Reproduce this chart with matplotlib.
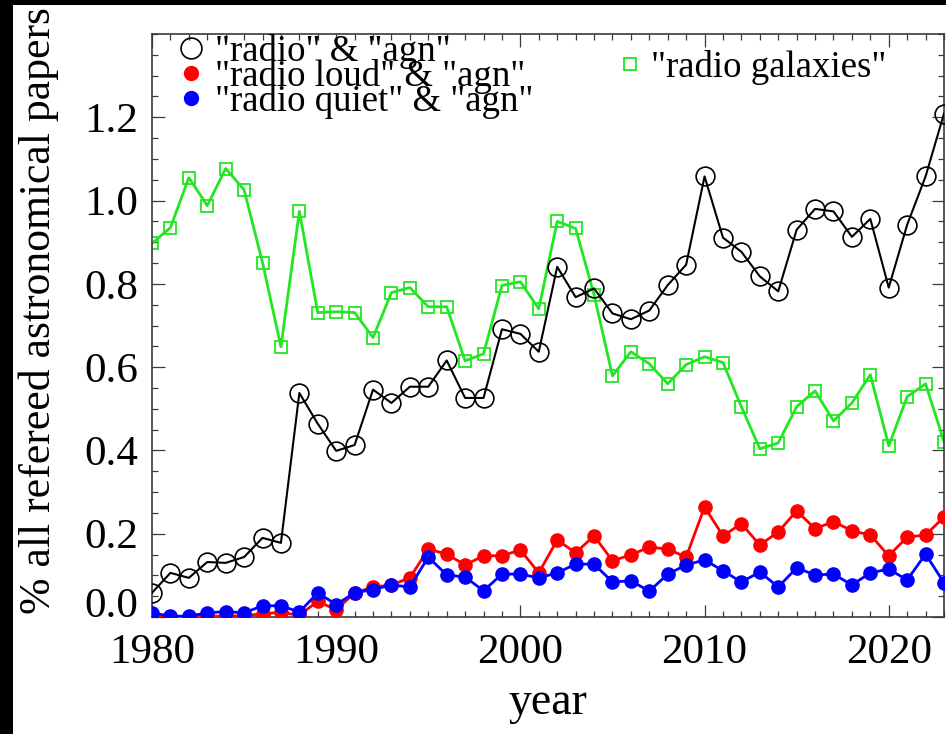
import matplotlib
matplotlib.use("Agg")
import matplotlib.pyplot as plt
from matplotlib.lines import Line2D
from matplotlib.patches import Rectangle
from matplotlib.ticker import MultipleLocator

# -----------------------------
# Data: fraction of refereed papers per year
# -----------------------------
years = list(range(1980, 2024))

radio_agn = [0.058, 0.106, 0.094, 0.132, 0.130, 0.144, 0.190, 0.178, 0.538, 0.464,
             0.399, 0.413, 0.546, 0.514, 0.553, 0.553, 0.616, 0.526, 0.526, 0.691,
             0.680, 0.637, 0.841, 0.768, 0.789, 0.729, 0.715, 0.736, 0.797, 0.846,
             1.058, 0.911, 0.877, 0.818, 0.782, 0.930, 0.980, 0.974, 0.913, 0.956,
             0.791, 0.942, 1.058, 1.209]

radio_loud = [0.000, 0.000, 0.000, 0.002, 0.002, 0.003, 0.008, 0.011, 0.004, 0.038,
              0.017, 0.058, 0.072, 0.077, 0.094, 0.163, 0.151, 0.125, 0.147, 0.147,
              0.161, 0.106, 0.185, 0.154, 0.195, 0.135, 0.149, 0.168, 0.163, 0.144,
              0.264, 0.195, 0.224, 0.173, 0.204, 0.255, 0.212, 0.229, 0.207, 0.197,
              0.147, 0.192, 0.197, 0.240]

radio_quiet = [0.010, 0.002, 0.002, 0.010, 0.013, 0.010, 0.027, 0.027, 0.012, 0.058,
               0.030, 0.058, 0.066, 0.077, 0.072, 0.144, 0.101, 0.096, 0.063, 0.103,
               0.103, 0.094, 0.106, 0.127, 0.127, 0.084, 0.087, 0.062, 0.103, 0.125,
               0.137, 0.111, 0.084, 0.108, 0.072, 0.118, 0.101, 0.103, 0.077, 0.106,
               0.115, 0.089, 0.151, 0.082]

radio_galaxies = [0.897, 0.935, 1.055, 0.988, 1.077, 1.026, 0.851, 0.649, 0.974, 0.731,
                  0.733, 0.731, 0.671, 0.779, 0.791, 0.745, 0.745, 0.615, 0.632, 0.796,
                  0.805, 0.740, 0.950, 0.933, 0.774, 0.579, 0.637, 0.608, 0.560, 0.606,
                  0.625, 0.611, 0.505, 0.404, 0.418, 0.505, 0.543, 0.471, 0.514, 0.582,
                  0.411, 0.529, 0.560, 0.421]

labels_left = ['"radio" & "agn"', '"radio loud" & "agn"', '"radio quiet" & "agn"']
label_right = '"radio galaxies"'

GREEN = "#22e622"
AXCOL = "#3a3a3a"

plt.rcParams["font.family"] = ["Liberation Serif", "DejaVu Serif"]

fig = plt.figure(figsize=(9.46, 7.34), dpi=100)
fig.patch.set_facecolor("black")
fig.patches.append(Rectangle((13 / 946, 0), 1 - 13 / 946, 1 - 5 / 734,
                             transform=fig.transFigure, facecolor="white",
                             edgecolor="none", zorder=-5))

ax = fig.add_axes([152 / 946, 1 - 617 / 734, 792 / 946, 583 / 734])

# -----------------------------
# Series
# -----------------------------
ax.plot(years, radio_galaxies, color=GREEN, lw=2.0, marker="s", ms=9,
        mfc="none", mec=GREEN, mew=1.3, zorder=2)
ax.plot(years, radio_agn, color="black", lw=1.5, marker="o", ms=13.5,
        mfc="none", mec="black", mew=1.2, zorder=3)
ax.plot(years, radio_loud, color="red", lw=2.0, marker="o", ms=9.5,
        mfc="red", mec="red", zorder=4)
ax.plot(years, radio_quiet, color="blue", lw=2.0, marker="o", ms=9.5,
        mfc="blue", mec="blue", zorder=5)

# -----------------------------
# Axes styling
# -----------------------------
ax.set_xlim(1980, 2023)
ax.set_ylim(0, 1.4)
ax.xaxis.set_major_locator(MultipleLocator(10))
ax.xaxis.set_minor_locator(MultipleLocator(1))
ax.set_yticks([0.0, 0.2, 0.4, 0.6, 0.8, 1.0, 1.2])
ax.yaxis.set_minor_locator(MultipleLocator(0.05))
ax.yaxis.set_major_formatter(plt.FormatStrFormatter("%.1f"))

for s in ax.spines.values():
    s.set_color(AXCOL)
    s.set_linewidth(1.2)

ax.tick_params(which="both", direction="in", top=True, right=True,
               color=AXCOL, width=0.9, labelsize=31)
ax.tick_params(which="major", length=9)
ax.tick_params(which="minor", length=4.5)
ax.tick_params(axis="y", which="major", pad=10)
ax.tick_params(axis="x", which="major", pad=12)

# lowest y label sits on the bottom axis line
ax.yaxis.get_major_ticks()[0].label1.set_va("baseline")

fig.text(548 / 946, 1 - 703 / 734, "year", ha="center", va="center", fontsize=33)
fig.text(39 / 946, 1 - 311 / 734, "% all refereed astronomical papers",
         ha="center", va="center", rotation=90, fontsize=31.5)

# -----------------------------
# Legends
# -----------------------------
h_left = [
    Line2D([], [], ls="none", marker="o", ms=15, mfc="none", mec="black", mew=1.2),
    Line2D([], [], ls="none", marker="o", ms=10, mfc="red", mec="red"),
    Line2D([], [], ls="none", marker="o", ms=10, mfc="blue", mec="blue"),
]
leg1 = ax.legend(h_left, labels_left, loc="upper left",
                 bbox_to_anchor=(0.033, 1.0), frameon=False, fontsize=26.5,
                 handlelength=0.7, handletextpad=0.3, labelspacing=-0.27,
                 borderaxespad=0, borderpad=0)
ax.add_artist(leg1)
h_right = [Line2D([], [], ls="none", marker="s", ms=9, mfc="none", mec=GREEN, mew=1.3)]
ax.legend(h_right, [label_right], loc="upper left",
          bbox_to_anchor=(0.59, 0.972), frameon=False, fontsize=26.5,
          handlelength=0.6, handletextpad=0.25, borderaxespad=0, borderpad=0)

fig.savefig("out.png", dpi=100, facecolor=fig.get_facecolor())
